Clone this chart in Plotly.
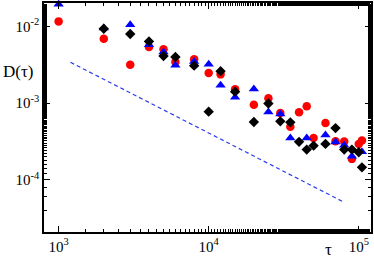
import plotly.graph_objects as go

# ---- data ----
tau_red = [1000, 2000, 3000, 4000, 5000, 6000, 8000, 10000, 12000, 15000, 20000, 25000,
           30000, 35000, 40000, 45000, 50000, 60000, 70000, 80000, 90000, 100000, 105000]
D_red = [0.01162, 0.00691, 0.003167, 0.005386, 0.005044, 0.003435, 0.003736, 0.00247,
         0.002366, 0.001518, 0.000947, 0.001152, 0.000743, 0.000492, 0.000761, 0.000906,
         0.000351, 0.00055, 0.000317, 0.000314, 0.000187, 0.000293, 0.000324]

tau_blue = [1000, 2000, 3000, 4000, 5000, 6000, 8000, 10000, 12000, 15000, 20000, 25000,
            30000, 35000, 45000, 60000, 70000, 80000, 90000, 105000]
D_blue = [0.01948, 0.00953, 0.01052, 0.00577, 0.004637, 0.003119, 0.003487, 0.003196,
          0.001712, 0.001194, 0.001527, 0.000766, 0.000721, 0.000351, 0.000351, 0.000384,
          0.000311, 0.000281, 0.000202, 0.000232]

tau_black = [2000, 3000, 4000, 5000, 6000, 8000, 10000, 12000, 15000, 20000, 25000,
             30000, 35000, 40000, 45000, 50000, 60000, 70000, 80000, 90000, 100000, 105000]
D_black = [0.00933, 0.00796, 0.00637, 0.004112, 0.00399, 0.003073, 0.000772, 0.002605,
           0.001408, 0.000567, 0.000988, 0.000577, 0.00056, 0.000312, 0.000247, 0.000278,
           0.000293, 0.000471, 0.000247, 0.000247, 0.000228, 0.000145]

# reference power law (dashed)
ref_tau = [1200, 80000]
ref_D = [0.0034, 5.07e-5]

x_tickvals = [1e3, 1e4, 1e5]
x_ticktext = ["10<sup>3</sup>", "10<sup>4</sup>", "10<sup>5</sup>"]
y_tickvals = [1e-4, 1e-3, 1e-2]
y_ticktext = ["10<sup>-4</sup>", "10<sup>-3</sup>", "10<sup>-2</sup>"]

SERIF = "Liberation Serif, Times New Roman, serif"

fig = go.Figure()
fig.add_trace(go.Scatter(x=ref_tau, y=ref_D, mode="lines",
                         line=dict(color="#2a3cf0", width=1.2, dash="4px,3px"),
                         showlegend=False, hoverinfo="skip"))
fig.add_trace(go.Scatter(x=tau_red, y=D_red, mode="markers",
                         marker=dict(symbol="circle", size=8.5, color="#ff0000"),
                         showlegend=False, cliponaxis=False))
fig.add_trace(go.Scatter(x=tau_blue, y=D_blue, mode="markers",
                         marker=dict(symbol="triangle-up", size=9, color="#0000ff"),
                         showlegend=False, cliponaxis=False))
fig.add_trace(go.Scatter(x=tau_black, y=D_black, mode="markers",
                         marker=dict(symbol="diamond", size=8, color="#000000"),
                         showlegend=False, cliponaxis=False))

axis_common = dict(
    showgrid=False, zeroline=False, showline=True, linecolor="black", linewidth=1.5,
    mirror="allticks", ticks="inside", ticklen=6, tickwidth=1, tickcolor="black",
    tickfont=dict(family=SERIF, size=15, color="black"),
    minor=dict(ticks="inside", ticklen=3, tickwidth=1, tickcolor="black", showgrid=False),
)

fig.update_xaxes(type="log", range=[2.9026, 5.0815], tickmode="array",
                 tickvals=x_tickvals, ticktext=x_ticktext, **axis_common)
fig.update_yaxes(type="log", range=[-4.682, -1.695], tickmode="array",
                 tickvals=y_tickvals, ticktext=y_ticktext, **axis_common)

fig.add_annotation(text="D(τ)", xref="paper", yref="paper", x=-0.078, y=0.703,
                   xanchor="center", yanchor="middle", showarrow=False,
                   font=dict(family=SERIF, size=17, color="black"))
fig.add_annotation(text="τ", xref="paper", yref="paper", x=0.869, y=-0.078,
                   xanchor="center", yanchor="middle", showarrow=False,
                   font=dict(family=SERIF, size=17, color="black"))

fig.update_layout(width=374, height=259, margin=dict(l=44, r=1, t=3, b=27),
                  paper_bgcolor="white", plot_bgcolor="white")

fig.write_html("out.html", config={"displayModeBar": False},
               post_script="document.body.style.margin='0';document.body.style.padding='0';")
